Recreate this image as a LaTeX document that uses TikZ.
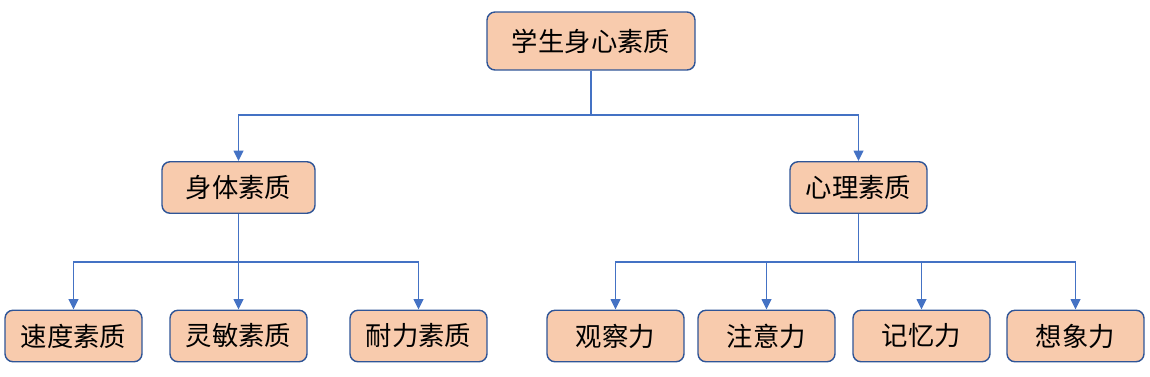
\documentclass[tikz,border=0pt]{standalone}
\usepackage{fontspec}
\setmainfont{Noto Sans CJK SC}
\usepackage{tikz}
\usetikzlibrary{arrows.meta}
\definecolor{boxfill}{HTML}{F8CBAD}
\definecolor{boxline}{HTML}{2F5597}
\definecolor{linkblue}{HTML}{4472C4}
\tikzset{
  box/.style={draw=boxline,line width=0.8pt,fill=boxfill,rounded corners=0.16cm,
    minimum height=1.03cm,inner sep=0pt,font=\fontsize{15}{18}\selectfont},
  link/.style={draw=linkblue,line width=1.1pt,-{Triangle[width=5.5pt,length=6pt]}}
}
\begin{document}
\begin{tikzpicture}[x=0.02cm,y=-0.02cm]
\useasboundingbox (0,0) rectangle (1150,376);
\node[box,minimum width=4.16cm,minimum height=1.16cm] (root) at (591,41) {学生身心素质};
\node[box,minimum width=3.06cm] (body) at (238.5,187.5) {身体素质};
\node[box,minimum width=2.74cm] (mind) at (858.5,187.5) {心理素质};
\node[box,minimum width=2.74cm] (speed) at (73.5,336) {速度素质};
\node[box,minimum width=2.74cm] (agile) at (238.5,336) {灵敏素质};
\node[box,minimum width=2.74cm] (endur) at (418.5,336) {耐力素质};
\node[box,minimum width=2.74cm] (obs) at (615.5,336) {观察力};
\node[box,minimum width=2.74cm] (attn) at (766.5,336) {注意力};
\node[box,minimum width=2.74cm] (mem) at (921.5,336) {记忆力};
\node[box,minimum width=2.74cm] (imag) at (1075.5,336) {想象力};
\coordinate (j0) at (591,115);
\coordinate (j1) at (238.5,262);
\coordinate (j2) at (858.5,262);
\draw[link] (root.south) -- (j0) -| (body.north);
\draw[link] (j0) -| (mind.north);
\foreach \n in {speed,agile,endur} \draw[link] (body.south) -- (j1) -| (\n.north);
\foreach \n in {obs,attn,mem,imag} \draw[link] (mind.south) -- (j2) -| (\n.north);
\end{tikzpicture}
\end{document}
